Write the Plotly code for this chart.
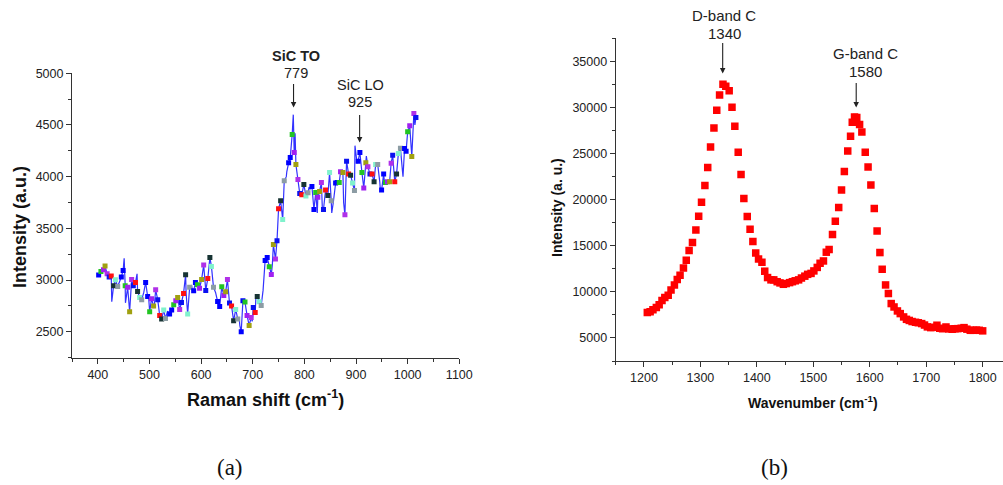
import plotly.graph_objects as go

# ---------------- Panel (a): SiC Raman spectrum ----------------
# marker points (x in cm-1, intensity a.u.), colour cycle of 12 as in Origin
xa = [401.6, 406, 411, 414, 418, 422, 426, 430.6, 434, 438.5, 442, 445.5, 449, 453, 457.8, 461.6,
      465.5, 468.7, 473, 477, 481, 485, 489, 492.6, 496.5, 500.4, 504, 508, 512, 516, 519.8, 523.6,
      527.6, 531, 535, 539, 543, 547, 551, 554.6, 558.5, 562, 566, 570, 574, 577.8, 581.7, 585.6,
      589, 593, 597, 601, 605, 609, 613, 617, 620, 624, 628, 632, 636, 640, 644, 647.5, 651, 655,
      659, 663, 667, 671, 674, 677.7, 681, 685, 689, 693, 697, 701, 704.8, 708.7, 712.6, 716.4, 720,
      724, 728, 732, 736, 740, 744, 747, 750, 754, 758, 761, 765, 769.5, 772.6, 776.4, 780.3, 783.6,
      787.5, 791, 795, 799, 803, 807, 811, 814.6, 818.5, 822, 826, 829.5, 833, 837, 841, 845.5,
      848.8, 852, 856, 860.5, 863.6, 867.5, 870, 874.6, 878.5, 881.7, 885.6, 889.5, 893.3, 897, 901,
      904, 907.5, 911.4, 915, 919, 923, 927, 931, 935, 938, 942, 946, 949.5, 953.5, 957, 961, 965,
      968, 971, 975, 978.5, 982, 986, 990, 994, 997, 1000, 1004, 1008, 1012, 1016]
ya = [3048, 3083, 3100, 3135, 3060, 3030, 3040, 2945, 3003, 2938, 2980, 3030, 3093, 2945, 2930, 2693,
      3006, 2945, 2977, 2890, 2832, 2810, 2880, 2977, 2841, 2693, 2819, 2750, 2906, 2810, 2658, 2623,
      2710, 2629, 2700, 2671, 2710, 2761, 2800, 2832, 2716, 2783, 2870, 3051, 2671, 2930, 2950, 2896,
      2977, 2955, 2922, 3006, 3145, 2900, 3015, 3218, 3132, 2930, 2880, 2793, 2745, 2935, 2850, 2887, 3006, 2777,
      2748, 2606, 2716, 2623, 2620, 2500, 2800, 2787, 2658, 2561, 2638, 2735, 2687, 2841, 2790, 2754, 2900,
      3190, 3218, 3128, 3054, 3344, 3203, 3380, 3690, 3767, 3586, 3960, 4000, 4134, 4185, 4408, 4234, 4118,
      3973, 3838, 3825, 3925, 3812, 3844, 3880, 3905, 3683, 3847, 3800, 3857, 3944, 3683, 3870, 3818,
      4040, 3767, 3750, 3938, 3944, 3944, 4047, 4040, 3631, 4150, 4025, 4015, 3938, 3866, 4150,
      4150, 4234, 4040, 3890, 4134, 4095, 4025, 4025, 3951, 4118, 4118, 3950, 3870, 4025, 3944, 3951, 3951,
      4131, 4208, 3951, 4025, 4224, 4276, 4050, 4273, 4247, 4434, 4492, 4195, 4611, 4572]
# extra raw-data points carried only by the blue line
xa_line_extra = [427, 451, 453.5, 476, 498, 509, 549, 571, 583, 626, 643, 675, 699, 706, 738, 766,
                 778.5, 782, 809, 825, 835, 853, 876, 898, 902, 920, 947, 955, 991, 1010, 1014]
ya_line_extra = [2790, 3210, 2780, 3060, 2860, 2730, 2760, 2870, 2900, 2900, 2870, 2560, 2600, 2820, 3150, 4050,
                 4600, 4420, 3900, 3650, 3660, 3650, 3750, 4300, 4130, 4200, 3880, 3950, 4000, 4420, 4500]
color_cycle_a = ["rgba(255,255,255,0)", "#0000FF", "#0000FF", "#22C422", "#A020F0", "#A0A010",
                 "#B030E8", "#0A10F0", "#FF1010", "#163333", "#80F2CC", "#8C9CA4"]
cycle_start_a = 2  # first point is the second blue of the cycle

# ---------------- Panel (b): carbon D/G bands ----------------
xb = [1206, 1211, 1216, 1222, 1227, 1232, 1237, 1243, 1248, 1254, 1259, 1264, 1270, 1275, 1280, 1286,
      1292, 1297, 1302, 1308, 1313, 1318, 1324, 1329, 1334, 1340, 1345, 1351, 1356, 1361, 1367, 1372,
      1377, 1383, 1388, 1393, 1398, 1403, 1409, 1414, 1419, 1425, 1430, 1436, 1441, 1447, 1452, 1458,
      1463, 1468, 1474, 1479, 1485, 1490, 1496, 1501, 1507, 1512, 1518, 1523, 1528, 1534, 1539, 1545,
      1550, 1555, 1561, 1566, 1569, 1573, 1577, 1582, 1586, 1592, 1597, 1602, 1608, 1613, 1618, 1622,
      1628, 1633, 1638, 1643, 1649, 1654, 1660, 1665, 1670, 1675, 1681, 1686, 1692, 1697, 1702, 1708,
      1713, 1719, 1724, 1729, 1735, 1740, 1746, 1751, 1756, 1762, 1767, 1772, 1778, 1783, 1789, 1794, 1800]
yb = [7750, 7850, 8050, 8300, 8600, 9050, 9400, 9630, 10200, 10750, 11350, 11800, 12600, 13430, 14480, 15350,
      16720, 18200, 19720, 21530, 23480, 25720, 27780, 29700, 31360, 32520, 32300, 31800, 30030, 27970, 25150, 22720,
      20120, 18170, 16790, 15460, 14220, 13570, 13210, 12240, 11550, 11300, 11300, 11100, 10970, 10820, 10900, 11000,
      11100, 11200, 11300, 11500, 11700, 11900, 12000, 12270, 12650, 13100, 13350, 14300, 14600, 16220, 17660, 19150,
      21060, 23050, 25290, 26880, 28400, 28970, 28900, 28150, 27350, 25150, 23550, 21600, 19040, 16610, 14260, 12450,
      10750, 9820, 8730, 8360, 7930, 7640, 7280, 7020, 6900, 6780, 6700, 6650, 6560, 6400, 6200, 6120,
      6150, 6380, 6050, 6000, 6190, 5980, 5940, 6000, 6010, 6050, 6120, 5950, 5830, 5830, 5850, 5830, 5770]

# ---------------- build ----------------
line_pts = sorted(zip(xa + xa_line_extra, ya + ya_line_extra))
xl = [p[0] for p in line_pts]
yl = [p[1] for p in line_pts]
marker_cols = [color_cycle_a[(i + cycle_start_a) % len(color_cycle_a)] for i in range(len(xa))]

fig = go.Figure()
fig.add_trace(go.Scatter(x=xl, y=yl, mode="lines", xaxis="x", yaxis="y",
                         line=dict(color="#1c1cff", width=1.2), opacity=0.9,
                         hoverinfo="skip", showlegend=False))
fig.add_trace(go.Scatter(x=xa, y=ya, mode="markers", xaxis="x", yaxis="y",
                         marker=dict(symbol="square", size=5, color=marker_cols, line=dict(width=0)),
                         showlegend=False))
fig.add_trace(go.Scatter(x=xb, y=yb, mode="markers", xaxis="x2", yaxis="y2",
                         marker=dict(symbol="square", size=7.5, color="#FF0000", line=dict(width=0)),
                         showlegend=False))

W, H = 1003, 485
def px(x):
    return x / W
def py(y):
    return 1 - y / H

tickfont = dict(family="Liberation Sans, Arial, sans-serif", size=12.5, color="#222")
axis_common = dict(showline=True, linecolor="#333", linewidth=1.1, ticks="outside", ticklen=5,
                   tickwidth=1, tickcolor="#333", showgrid=False, zeroline=False, tickfont=tickfont,
                   mirror=False, automargin=False, tickformat="d")

fig.update_layout(
    template="none",
    width=W, height=H, margin=dict(l=0, r=0, t=0, b=0, autoexpand=False),
    paper_bgcolor="white", plot_bgcolor="white",
    xaxis=dict(domain=[px(72), px(459.3)], range=[350, 1100], dtick=100, tick0=400,
               minor=dict(ticks="outside", ticklen=3, dtick=50, tickcolor="#333"),
               anchor="y", **axis_common),
    yaxis=dict(domain=[py(357.6), py(73.3)], range=[2250, 5000], dtick=500, tick0=2500,
               minor=dict(ticks="outside", ticklen=3, dtick=250, tickcolor="#333"),
               anchor="x", **axis_common),
    xaxis2=dict(domain=[px(615.7), 1.0], range=[1150, 1836], dtick=100, tick0=1200,
                minor=dict(ticks="outside", ticklen=3, dtick=50, tickcolor="#333"),
                anchor="y2", **axis_common),
    yaxis2=dict(domain=[py(361), py(38.3)], range=[2500, 37500], dtick=5000, tick0=5000,
                minor=dict(ticks="outside", ticklen=3, dtick=2500, tickcolor="#333"),
                anchor="x2", **axis_common),
)

sans = "Liberation Sans, Arial, sans-serif"
ctr = dict(xref="paper", yref="paper", xanchor="center", yanchor="middle", showarrow=False)
ann = []
# axis titles
ann.append(dict(text="<b>Intensity (a.u.)</b>", x=px(20), y=py(227), textangle=-90,
                font=dict(family=sans, size=18, color="#111"), **ctr))
ann.append(dict(text="<b>Raman shift (cm<sup>-1</sup>)</b>", x=px(265), y=py(398),
                font=dict(family=sans, size=18, color="#111"), **ctr))
ann.append(dict(text="<b>Intensity (a. u.)</b>", x=px(557), y=py(208), textangle=-90,
                font=dict(family=sans, size=14, color="#111"), **ctr))
ann.append(dict(text="<b>Wavenumber (cm<sup>-1</sup>)</b>", x=px(813), y=py(402),
                font=dict(family=sans, size=14, color="#111"), **ctr))
# peak labels
lab = dict(family=sans, size=14.5, color="#222")
ann.append(dict(text="<b>SiC TO</b>", x=px(295.7), y=py(56), font=lab, **ctr))
ann.append(dict(text="779", x=px(295.7), y=py(72.7), font=lab, **ctr))
ann.append(dict(text="SiC LO", x=px(360), y=py(85), font=lab, **ctr))
ann.append(dict(text="925", x=px(360), y=py(101.7), font=lab, **ctr))
lab2 = dict(family=sans, size=15, color="#222")
ann.append(dict(text="D-band C", x=px(724.3), y=py(15.7), font=lab2, **ctr))
ann.append(dict(text="1340", x=px(724.3), y=py(33.3), font=lab2, **ctr))
ann.append(dict(text="G-band C", x=px(865), y=py(53.3), font=lab2, **ctr))
ann.append(dict(text="1580", x=px(865), y=py(71.7), font=lab2, **ctr))
# arrows
arr = dict(text="", showarrow=True, arrowhead=2, arrowsize=1, arrowwidth=1.1, arrowcolor="#222", ax=0, standoff=0)
ann.append(dict(x=779, y=4669, xref="x", yref="y", ay=-25, **arr))
ann.append(dict(x=907, y=4330, xref="x", yref="y", ay=-29, **arr))
ann.append(dict(x=1339.5, y=33677, xref="x2", yref="y2", ay=-32, **arr))
ann.append(dict(x=1576, y=29990, xref="x2", yref="y2", ay=-26, **arr))
# panel captions
serif = "Liberation Serif, Times New Roman, serif"
ann.append(dict(text="(a)", x=px(230), y=py(467), font=dict(family=serif, size=23, color="#111"), **ctr))
ann.append(dict(text="(b)", x=px(774), y=py(467), font=dict(family=serif, size=23, color="#111"), **ctr))
fig.update_layout(annotations=ann)

fig.write_html("out.html", config={"displayModeBar": False},
               post_script="document.body.style.margin='0px';document.body.style.overflow='hidden';")
